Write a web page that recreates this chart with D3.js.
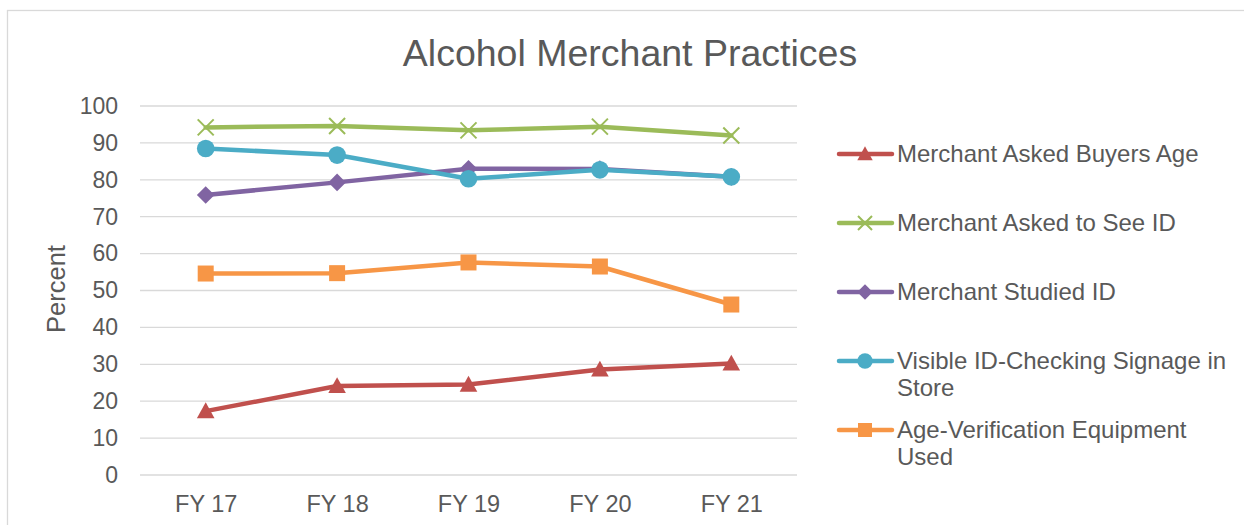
<!DOCTYPE html>
<html lang="en">
<head>
    <meta charset="UTF-8">
    <title>Alcohol Merchant Practices</title>
    <script src="https://d3js.org/d3.v7.min.js"></script>
    <style>
        body {
            margin: 0;
            padding: 0;
            background: #fff;
            font-family: 'Liberation Sans', Arial, sans-serif;
        }
        .grid line {
            stroke: #d9d9d9;
            stroke-width: 1.3px;
        }
        .tick text, .title, .ytitle, .legend text {
            fill: #595959;
        }
    </style>
</head>
<body>
<div id="chart"></div>

<script>
    // chart data
    const years = ["FY 17", "FY 18", "FY 19", "FY 20", "FY 21"];
    const askedAge = [17.3, 24.1, 24.5, 28.6, 30.2];
    const askedId = [94.2, 94.6, 93.4, 94.4, 92.0];
    const studiedId = [75.9, 79.3, 83.0, 82.9, 80.8];
    const signage = [88.5, 86.7, 80.3, 82.7, 80.8];
    const equipment = [54.6, 54.7, 57.6, 56.5, 46.2];
    const yTicks = [0, 10, 20, 30, 40, 50, 60, 70, 80, 90, 100];

    const series = [
        {name: ["Merchant Asked Buyers Age"], values: askedAge, color: "#c0504d", mark: "triangle"},
        {name: ["Merchant Asked to See ID"], values: askedId, color: "#9bbb59", mark: "x"},
        {name: ["Merchant Studied ID"], values: studiedId, color: "#8064a2", mark: "diamond"},
        {name: ["Visible ID-Checking Signage in", "Store"], values: signage, color: "#4bacc6", mark: "circle"},
        {name: ["Age-Verification Equipment", "Used"], values: equipment, color: "#f79646", mark: "square"}
    ];

    const width = 1244, height = 525;
    const svg = d3.select("#chart").append("svg")
        .attr("width", width)
        .attr("height", height);

    // outer chart border
    svg.append("rect")
        .attr("x", 7.5).attr("y", 10.5)
        .attr("width", 1260).attr("height", 520)
        .attr("fill", "none")
        .attr("stroke", "#d9d9d9")
        .attr("stroke-width", 1.3);

    const x = d3.scalePoint().domain(years).range([140, 797]).padding(0.5);
    const y = d3.scaleLinear().domain([0, 100]).range([475, 106]);

    // title
    svg.append("text")
        .attr("class", "title")
        .attr("x", 630).attr("y", 66)
        .attr("text-anchor", "middle")
        .style("font-size", "37.5px")
        .text("Alcohol Merchant Practices");

    // gridlines
    svg.append("g")
        .attr("class", "grid")
        .selectAll("line")
        .data(yTicks)
        .enter().append("line")
        .attr("x1", 140).attr("x2", 797)
        .attr("y1", d => y(d)).attr("y2", d => y(d));

    // y axis labels
    const yAxis = svg.append("g")
        .attr("transform", "translate(140,0)")
        .call(d3.axisLeft(y).tickValues(yTicks).tickSize(0).tickPadding(22));
    yAxis.select(".domain").remove();
    yAxis.selectAll("text").style("font-size", "23px").style("font-family", "'Liberation Sans', Arial, sans-serif");

    // x axis labels
    const xAxis = svg.append("g")
        .attr("transform", "translate(0,475)")
        .call(d3.axisBottom(x).tickSize(0).tickPadding(20));
    xAxis.select(".domain").remove();
    xAxis.selectAll("text").style("font-size", "23.5px").style("font-family", "'Liberation Sans', Arial, sans-serif");

    svg.append("text")
        .attr("class", "ytitle")
        .attr("transform", "translate(65,289) rotate(-90)")
        .attr("text-anchor", "middle")
        .style("font-size", "25.5px")
        .text("Percent");

    function drawMark(g, type, color, s) {
        if (type === "circle") {
            g.append("circle").attr("r", s * 0.55).attr("fill", color);
        } else if (type === "square") {
            g.append("rect").attr("x", -s / 2).attr("y", -s / 2)
                .attr("width", s).attr("height", s).attr("fill", color);
        } else if (type === "diamond") {
            const h = s * 0.55;
            g.append("path").attr("d", `M0,${-h}L${h},0L0,${h}L${-h},0Z`).attr("fill", color);
        } else if (type === "triangle") {
            const h = s * 0.55;
            g.append("path").attr("d", `M0,${-h}L${h},${h * 0.8}L${-h},${h * 0.8}Z`).attr("fill", color);
        } else if (type === "x") {
            const h = s * 0.5;
            g.append("path").attr("d", `M${-h},${-h}L${h},${h}M${h},${-h}L${-h},${h}`)
                .attr("stroke", color).attr("stroke-width", 2).attr("fill", "none");
        }
    }

    const line = d3.line()
        .x((d, i) => x(years[i]))
        .y(d => y(d));

    series.forEach(s => {
        const g = svg.append("g");
        g.append("path")
            .datum(s.values)
            .attr("d", line)
            .attr("fill", "none")
            .attr("stroke", s.color)
            .attr("stroke-width", 4.5)
            .attr("stroke-linejoin", "round")
            .attr("stroke-linecap", "round");
        s.values.forEach((v, i) => {
            const m = g.append("g").attr("transform", `translate(${x(years[i])},${y(v)})`);
            drawMark(m, s.mark, s.color, 16);
        });
    });

    // legend
    const legend = svg.append("g").attr("class", "legend");
    const legendY = [154, 223, 292, 361, 430];
    series.forEach((s, i) => {
        const g = legend.append("g").attr("transform", `translate(0,${legendY[i]})`);
        g.append("line")
            .attr("x1", 839).attr("x2", 892)
            .attr("stroke", s.color)
            .attr("stroke-width", 4.5)
            .attr("stroke-linecap", "round");
        const m = g.append("g").attr("transform", "translate(865,0)");
        drawMark(m, s.mark, s.color, 14);
        const t = g.append("text")
            .attr("x", 897).attr("y", 0)
            .style("font-size", "24px");
        s.name.forEach((part, j) => {
            t.append("tspan")
                .attr("x", 897)
                .attr("y", j * 27)
                .attr("dy", "0.35em")
                .text(part);
        });
    });
</script>
</body>
</html>
